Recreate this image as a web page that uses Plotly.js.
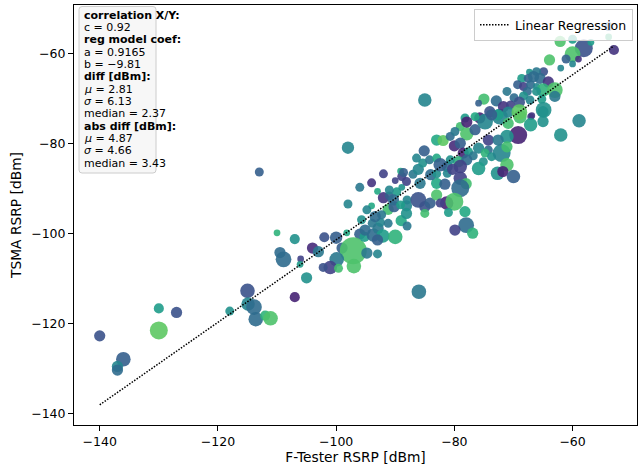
<!DOCTYPE html>
<html>
<head>
<meta charset="utf-8">
<script src="https://cdn.plot.ly/plotly-3.0.1.min.js"></script>
<style>html,body{margin:0;padding:0;background:#fff;}#chart{width:638px;height:474px;}</style>
</head>
<body>
<div id="chart"></div>
<script>
// F-Tester RSRP (x) vs TSMA RSRP (y), bubble size and colour value (viridis 0..1)
const ftX = [-140.0,-136.0,-137.0,-137.0,-130.0,-130.0,-127.0,-118.0,-115.0,-114.9,-113.9,-113.6,-112.0,-111.1,-110.0,-107.0,-109.5,-108.9,-106.0,-106.1,-104.0,-103.0,-105.0,-107.0,-113.0,
-98.0,-98.0,-96.0,-94.0,-93.0,-92.0,-94.0,-86.0,-102.0,-100.0,-99.0,-98.2,-96.0,-97.1,-97.0,-94.8,-93.0,-99.9,-101.0,-102.2,-99.6,-95.2,-93.7,-92.9,-92.1,-90.0,-93.0,-95.1,-93.9,-92.5,-91.2,-92.3,-90.2,-89.0,-88.0,-88.1,-91.0,-89.75,-88.9,-88.0,-86.1,-85.0,-84.1,-83.0,-83.0,-85.0,-81.3,
-91.0,-90.0,-88.9,-89.1,-88.1,-87.0,-86.1,-85.8,-85.1,-85.35,-84.2,-83.0,-83.0,-81.9,-80.7,-80.0,-79.0,-77.9,-78.2,-76.5,-75.7,-74.8,-74.0,-72.3,-70.9,-75.9,-74.25,-74.8,-73.7,-72.0,-71.1,-72.7,-71.8,-70.0,-69.2,-67.1,-65.0,-65.0,-68.9,
-79.0,-78.5,-77.6,-76.8,-79.3,-77.9,-75.1,-75.9,-81.2,-80.7,-79.0,-79.0,-78.0,-79.0,-80.0,-78.2,-78.0,-79.9,-76.9,-81.0,-82.4,-81.6,-84.0,-83.0,-81.2,-80.3,-82.4,-95.7,-94.8,-93.4,-90.3,-89.1,-88.1,-91.2,-86.4,-88.6,-92.0,
-62.1,-60.0,-58.1,-56.9,-60.0,-59.0,-61.1,-60.0,-62.0,-53.9,-53.0,-53.9,-63.9,-64.9,-66.1,-67.3,-68.6,-67.5,-66.6,-65.5,-64.1,-69.3,-68.3,-67.1,-66.1,-65.0,-63.0,-67.65,-66.1,-63.0,-71.1,-69.9,-68.3,-67.2,-65.2,
-75.0,-72.9,-71.7,-70.5,-69.0,-75.9,-70.9,-72.6,-73.7,-69.0,-66.9,-64.9,-67.1,-58.9,-62.0,-71.1,-76.5,-77.9,-79.9,-74.25,-72.6,-71.1,-85.0];
const tsmaY = [-122.8,-128.0,-129.6,-130.4,-116.7,-121.6,-117.6,-117.3,-112.8,-115.7,-116.4,-119.1,-118.3,-118.9,-99.9,-101.3,-104.3,-105.8,-105.7,-106.9,-103.3,-104.1,-109.9,-114.2,-86.4,
-81.0,-93.5,-89.8,-88.8,-90.7,-92.1,-93.9,-113.0,-100.9,-101.0,-103.3,-99.9,-100.2,-103.9,-107.3,-104.4,-104.6,-105.8,-107.6,-107.6,-107.8,-100.8,-100.4,-98.9,-100.6,-100.8,-101.5,-99.3,-97.8,-97.6,-94.7,-95.9,-94.1,-97.2,-98.4,-93.9,-91.7,-90.8,-89.8,-92.6,-92.6,-94.1,-93.3,-91.5,-88.9,-95.6,-93.3,
-90.4,-88.3,-87.4,-86.2,-88.5,-86.9,-85.8,-88.9,-81.7,-84.4,-83.7,-83.3,-79.3,-79.4,-78.5,-80.6,-76.3,-77.9,-74.4,-77.0,-74.4,-75.2,-73.0,-74.1,-75.6,-81.1,-81.5,-82.2,-83.0,-82.2,-84.8,-86.7,-86.3,-87.4,-78.2,-74.1,-73.0,-75.2,-74.1,
-80.0,-82.2,-81.9,-82.8,-84.1,-83.7,-84.1,-85.6,-85.2,-83.7,-85.2,-87.8,-89.0,-90.0,-93.0,-95.2,-98.2,-99.3,-100.0,-95.4,-93.3,-89.1,-87.0,-86.8,-86.7,-85.8,-84.8,-97.0,-94.8,-96.3,-92.6,-93.7,-95.6,-97.8,-83.3,-86.5,-86.8,
-57.4,-56.9,-58.9,-57.6,-60.2,-61.3,-61.3,-62.4,-63.3,-56.4,-59.3,-54.1,-61.5,-64.1,-64.1,-64.2,-65.6,-65.6,-65.2,-65.6,-66.4,-67.0,-67.4,-67.0,-67.4,-68.2,-68.2,-68.5,-68.5,-69.6,-68.5,-69.9,-69.5,-70.4,-70.2,
-70.2,-70.6,-71.9,-71.5,-70.9,-71.1,-73.1,-73.7,-73.7,-73.1,-73.9,-72.6,-75.9,-75.0,-78.2,-78.5,-74.1,-75.3,-77.4,-79.3,-79.3,-80.8,-70.4];
const bubbleSize = [10,13,10,10,9,16,10,8,13,12,14,13,9,13,6,9,10,14,6,6,10,10,10,9,8,
11,8,8,8,6,10,6,13,9,11,10,6,10,24,13,10,8,13,12,8,8,9,12,10,12,13,10,10,8,8,10,8,10,10,8,10,8,8,6,8,14,10,10,10,10,8,12,
8,6,8,6,8,8,10,10,10,8,8,8,10,10,8,10,8,12,8,10,10,14,10,14,10,10,8,8,8,16,12,12,10,12,16,6,10,10,12,
10,10,8,8,10,10,8,12,10,8,12,12,10,16,16,10,14,10,10,8,8,10,10,8,8,10,12,8,8,10,10,8,10,8,8,8,8,
10,8,16,6,14,6,8,6,6,6,9,8,10,8,8,6,8,8,10,10,10,8,8,8,6,12,14,8,8,10,8,8,8,8,8,
10,10,10,8,10,6,10,10,10,14,6,14,12,12,12,12,8,10,8,10,10,10,12];
const colorVal = [.25,.30,.45,.35,.55,.75,.25,.50,.25,.45,.35,.35,.65,.72,.65,.50,.35,.35,.20,.55,.12,.40,.50,.10,.30,
.45,.45,.40,.15,.60,.15,.60,.40,.25,.30,.30,.60,.30,.72,.72,.40,.45,.40,.20,.25,.70,.55,.35,.40,.55,.65,.30,.35,.40,.45,.70,.40,.30,.60,.40,.45,.30,.55,.50,.45,.25,.25,.30,.72,.60,.70,.10,
.45,.20,.20,.60,.20,.40,.45,.40,.30,.50,.40,.60,.60,.75,.35,.12,.70,.72,.55,.30,.10,.45,.25,.45,.70,.45,.35,.65,.50,.45,.72,.50,.10,.30,.10,.20,.50,.50,.70,
.30,.10,.55,.40,.65,.35,.50,.55,.35,.50,.20,.20,.70,.35,.72,.60,.35,.20,.65,.55,.20,.30,.35,.50,.45,.20,.30,.50,.45,.35,.35,.55,.50,.40,.45,.30,.20,
.72,.55,.25,.55,.72,.15,.30,.45,.45,.65,.15,.30,.72,.25,.40,.50,.55,.30,.35,.35,.15,.30,.20,.35,.45,.65,.72,.35,.50,.40,.40,.35,.50,.45,.55,
.70,.35,.15,.20,.25,.30,.45,.55,.30,.75,.15,.50,.55,.45,.50,.50,.60,.10,.40,.20,.40,.70,.45];

// regression model coefficients
const regA = 0.9165, regB = -9.81;
const regX = [Math.min(...ftX), Math.max(...ftX)];
const regY = regX.map(v => regA * v + regB);

const statLines = ["<b>correlation X/Y:</b>", "c = 0.92", "<b>reg model coef:</b>", "a = 0.9165", "b = −9.81",
  "<b>diff [dBm]:</b>", "<i>μ</i> = 2.81", "<i>σ</i> = 6.13", "median = 2.37",
  "<b>abs diff [dBm]:</b>", "<i>μ</i> = 4.87", "<i>σ</i> = 4.66", "median = 3.43"];

const W = 638, H = 474, L = 74, R = 637, T = 5, B = 425;
const px2x = p => (p - L) / (R - L);
const px2y = p => (B - p) / (B - T);

const annotations = statLines.map((t, i) => ({
  xref: 'paper', yref: 'paper', x: px2x(82), y: px2y(15 + 12.36 * i),
  xanchor: 'left', yanchor: 'middle', showarrow: false, text: t,
  font: {family: 'DejaVu Sans', size: 11, color: '#000'}
}));

const bx0 = px2x(79), bx1 = px2x(156), by1 = px2y(6.5), by0 = px2y(173);
const rx = 3 / (R - L), ry = 3 / (B - T);
const boxPath = `M ${bx0+rx},${by1} L ${bx1-rx},${by1} Q ${bx1},${by1} ${bx1},${by1-ry} L ${bx1},${by0+ry} Q ${bx1},${by0} ${bx1-rx},${by0} L ${bx0+rx},${by0} Q ${bx0},${by0} ${bx0},${by0+ry} L ${bx0},${by1-ry} Q ${bx0},${by1} ${bx0+rx},${by1} Z`;

const traces = [
  {
    type: 'scatter', mode: 'markers', x: ftX, y: tsmaY, showlegend: false, hoverinfo: 'skip',
    marker: {size: bubbleSize, sizeref: 0.89, sizemode: 'diameter', color: colorVal, colorscale: 'Viridis', cmin: 0, cmax: 1, opacity: 0.9, line: {width: 0}}
  },
  {
    type: 'scatter', mode: 'lines', x: regX, y: regY, name: 'Linear Regression',
    line: {color: '#000', width: 1.5, dash: '1.5px,1.5px'}
  }
];

const axisCommon = {
  showgrid: false, zeroline: false, showline: true, mirror: true, linecolor: '#000', linewidth: 1,
  ticks: 'outside', ticklen: 5, tickwidth: 1, tickcolor: '#000',
  tickfont: {family: 'DejaVu Sans', size: 12.5, color: '#000'}, dtick: 20
};

const layout = {
  width: W, height: H,
  margin: {l: L, r: W - R, t: T, b: H - B, pad: 0},
  paper_bgcolor: '#fff', plot_bgcolor: '#fff',
  font: {family: 'DejaVu Sans', color: '#000'},
  xaxis: Object.assign({}, axisCommon, {range: [-144.35, -49.1], tick0: -140,
    title: {text: 'F-Tester RSRP [dBm]', font: {family: 'DejaVu Sans', size: 13.8, color: '#000'}, standoff: 4}}),
  yaxis: Object.assign({}, axisCommon, {range: [-142.6, -49.3], tick0: -140,
    title: {text: 'TSMA RSRP [dBm]', font: {family: 'DejaVu Sans', size: 13.8, color: '#000'}, standoff: 6}}),
  legend: {x: px2x(633), xanchor: 'right', y: px2y(9), yanchor: 'top',
    bgcolor: 'rgba(255,255,255,0.8)', bordercolor: '#cccccc', borderwidth: 1,
    font: {family: 'DejaVu Sans', size: 12.5, color: '#000'}, itemwidth: 30},
  shapes: [{type: 'path', xref: 'paper', yref: 'paper', path: boxPath,
    fillcolor: 'rgba(245,245,245,0.8)', line: {color: '#cccccc', width: 1}, layer: 'above'}],
  annotations: annotations
};

Plotly.newPlot('chart', traces, layout, {displayModeBar: false, staticPlot: true});
</script>
</body>
</html>
